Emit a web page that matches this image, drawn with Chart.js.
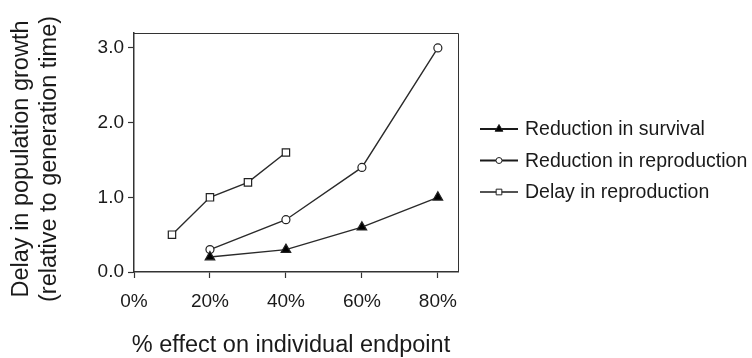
<!DOCTYPE html>
<html>
<head>
<meta charset="utf-8">
<script src="https://cdn.jsdelivr.net/npm/chart.js@4/dist/chart.umd.min.js"></script>
<style>
    html, body { margin: 0; padding: 0; background: #fff; }
    #wrap { width: 752px; height: 358px; }
</style>
</head>
<body>
<div id="wrap"><canvas id="effect-chart"></canvas></div>
<script>
// values
var seriesNames = ["Reduction in survival", "Reduction in reproduction", "Delay in reproduction"];
var survivalX = [20, 40, 60, 80];
var survivalY = [0.2, 0.3, 0.6, 1.0];
var reproX = [20, 40, 60, 80];
var reproY = [0.3, 0.7, 1.4, 3.0];
var delayX = [10, 20, 30, 40];
var delayY = [0.5, 1.0, 1.2, 1.6];
var xTicks = [0, 20, 40, 60, 80];
var yTicks = [0, 1, 2, 3];
var xTitle = "% effect on individual endpoint";
var yTitle = ["Delay in population growth", "(relative to generation time)"];

var ink = "#1a1a1a";
var fontName = "'Liberation Sans', Arial, sans-serif";

function pairs(xs, ys) {
    return xs.map(function (x, i) { return { x: x, y: ys[i] }; });
}

function lineSet(label, xs, ys, style, fill, r) {
    return {
        label: label,
        data: pairs(xs, ys),
        borderColor: "#2a2a2a",
        borderWidth: 1.4,
        pointStyle: style,
        pointRadius: r,
        pointBackgroundColor: fill,
        pointBorderColor: "#222",
        pointBorderWidth: 1.2,
        tension: 0
    };
}

// box, axis titles and legend are drawn by hand
var extras = {
    id: "extras",
    afterDraw: function (chart) {
        var ctx = chart.ctx;
        var a = chart.chartArea;
        ctx.save();
        ctx.strokeStyle = "#333";
        ctx.lineWidth = 1;
        ctx.beginPath();
        ctx.moveTo(a.left, a.top + 0.5);
        ctx.lineTo(a.right + 0.5, a.top + 0.5);
        ctx.lineTo(a.right + 0.5, a.bottom);
        ctx.stroke();

        ctx.fillStyle = ink;
        ctx.font = "23.5px " + fontName;
        ctx.textAlign = "center";
        ctx.textBaseline = "middle";
        ctx.save();
        ctx.translate(22, 159);
        ctx.rotate(-Math.PI / 2);
        ctx.fillText(yTitle[0], 0, 0);
        ctx.restore();
        ctx.save();
        ctx.translate(50, 159);
        ctx.rotate(-Math.PI / 2);
        ctx.fillText(yTitle[1], 0, 0);
        ctx.restore();

        ctx.textBaseline = "alphabetic";
        ctx.fillText(xTitle, 291, 352);

        // legend
        var rows = [129, 160.5, 192];
        var legendR = [4.5, 3, 4];
        var lineW = [2, 2, 1.3];
        chart.data.datasets.forEach(function (ds, i) {
            var y = rows[i];
            ctx.strokeStyle = ink;
            ctx.lineWidth = lineW[i];
            ctx.beginPath();
            ctx.moveTo(480, y);
            ctx.lineTo(518, y);
            ctx.stroke();
            ctx.fillStyle = ds.pointBackgroundColor;
            ctx.strokeStyle = "#222";
            ctx.lineWidth = 1;
            Chart.helpers.drawPoint(ctx, {
                pointStyle: ds.pointStyle,
                radius: legendR[i],
                rotation: 0,
                borderWidth: 1
            }, 499, y);
            ctx.fillStyle = ink;
            ctx.font = "19.5px " + fontName;
            ctx.textAlign = "left";
            ctx.textBaseline = "middle";
            ctx.fillText(ds.label, 525, y + 1);
        });
        ctx.restore();
    }
};

new Chart(document.getElementById("effect-chart"), {
    type: 'line',
    data: {
        datasets: [
            lineSet(seriesNames[0], survivalX, survivalY, 'triangle', "#000", 5.5),
            lineSet(seriesNames[1], reproX, reproY, 'circle', "#fff", 4),
            lineSet(seriesNames[2], delayX, delayY, 'rect', "#fff", 5.2)
        ]
    },
    options: {
        responsive: true,
        maintainAspectRatio: false,
        animation: false,
        events: [],
        layout: { padding: { left: 0, top: 33, right: 294, bottom: 0 } },
        plugins: {
            legend: { display: false },
            tooltip: { enabled: false }
        },
        scales: {
            x: {
                type: 'linear',
                min: 0,
                max: 85.3,
                afterBuildTicks: function (scale) {
                    scale.ticks = xTicks.map(function (v) { return { value: v }; });
                },
                afterFit: function (scale) { scale.height = 86; },
                grid: { drawOnChartArea: false, tickLength: 6, color: "#333", tickWidth: 1.2 },
                border: { color: "#333", width: 1.5 },
                ticks: {
                    color: ink,
                    padding: 12,
                    maxRotation: 0,
                    font: { family: fontName, size: 19 },
                    callback: function (v) { return v + "%"; }
                }
            },
            y: {
                min: 0,
                max: 3.2,
                afterBuildTicks: function (scale) {
                    scale.ticks = yTicks.map(function (v) { return { value: v }; });
                },
                afterFit: function (scale) { scale.width = 134; },
                grid: { drawOnChartArea: false, tickLength: 6, color: "#333", tickWidth: 1.2 },
                border: { color: "#333", width: 1.5 },
                ticks: {
                    color: ink,
                    padding: 4,
                    font: { family: fontName, size: 19 },
                    callback: function (v) { return v.toFixed(1); }
                }
            }
        }
    },
    plugins: [extras]
});
</script>
</body>
</html>
